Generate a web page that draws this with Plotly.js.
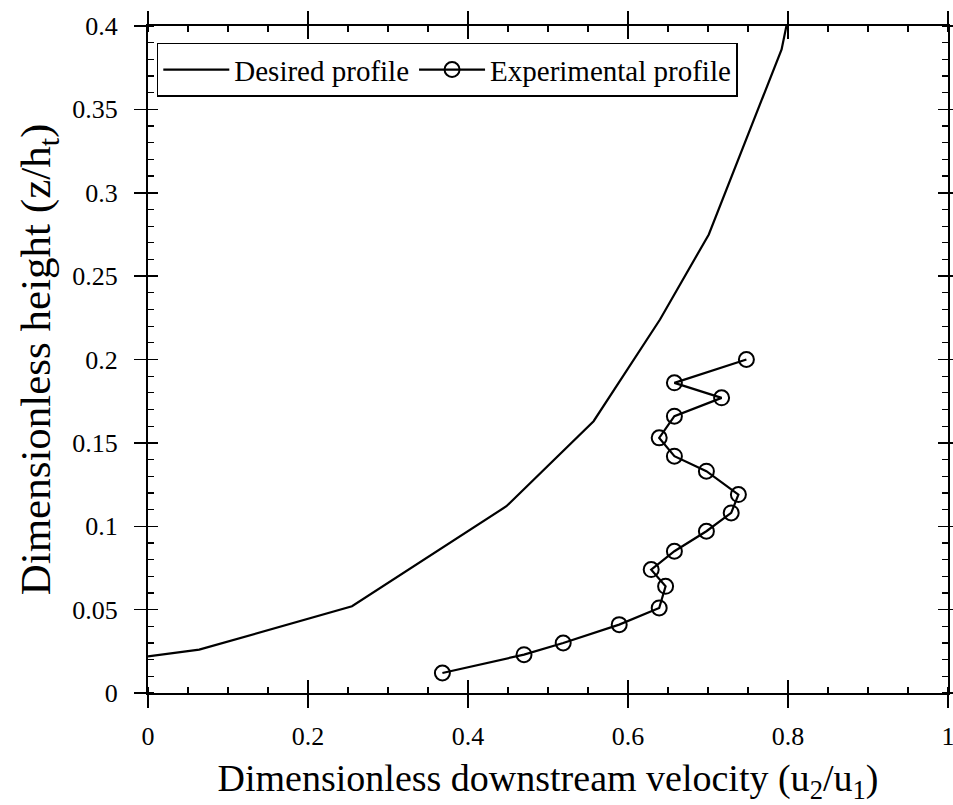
<!DOCTYPE html>
<html>
<head>
<meta charset="utf-8">
<script src="https://cdn.plot.ly/plotly-3.0.1.min.js"></script>
<style>html,body{margin:0;padding:0;background:#fff;}</style>
</head>
<body>
<div id="chart" style="width:953px;height:805px;"></div>
<script>
// Desired profile (solid line)
const desiredX = [0, 0.064, 0.255, 0.448, 0.557, 0.640, 0.701, 0.792, 0.798];
const desiredY = [0.022, 0.026, 0.052, 0.112, 0.163, 0.224, 0.275, 0.386, 0.400];

// Experimental profile (line + open circles)
const expX = [0.368, 0.470, 0.519, 0.589, 0.639, 0.647, 0.629, 0.658, 0.698, 0.729,
              0.738, 0.698, 0.658, 0.639, 0.658, 0.717, 0.658, 0.748];
const expY = [0.012, 0.023, 0.030, 0.041, 0.051, 0.064, 0.074, 0.085, 0.097, 0.108,
              0.119, 0.133, 0.142, 0.153, 0.166, 0.177, 0.186, 0.200];

const seriesNames = ["Desired profile", "Experimental profile"];
const xTickVals = [0, 0.2, 0.4, 0.6, 0.8, 1];
const xTickText = ["0", "0.2", "0.4", "0.6", "0.8", "1"];
const yTickVals = [0, 0.05, 0.1, 0.15, 0.2, 0.25, 0.3, 0.35, 0.4];
const yTickText = ["0", "0.05", "0.1", "0.15", "0.2", "0.25", "0.3", "0.35", "0.4"];
const xTitle = "Dimensionless downstream velocity (u<sub>2</sub>/u<sub>1</sub>)";
const yTitle = "Dimensionless height (z/h<sub>t</sub>)";

const FONT = "Liberation Serif, Times New Roman, serif";

const traces = [
  {x: desiredX, y: desiredY, mode: "lines", name: seriesNames[0],
   line: {color: "#000", width: 2.2}, hoverinfo: "skip"},
  {x: expX, y: expY, mode: "lines+markers", name: seriesNames[1],
   line: {color: "#000", width: 2.2},
   marker: {symbol: "circle-open", size: 15, color: "#000", line: {width: 2, color: "#000"}},
   hoverinfo: "skip"},
  // carrier trace so the overlay axes (inward major ticks) get drawn
  {x: desiredX, y: desiredY, xaxis: "x2", yaxis: "y2", mode: "none",
   showlegend: false, hoverinfo: "skip"}
];

const layout = {
  width: 953, height: 805,
  margin: {l: 148, r: 5, t: 26, b: 112},
  paper_bgcolor: "#fff", plot_bgcolor: "#fff",
  font: {family: FONT, color: "#000", size: 26},
  showlegend: true,
  legend: {
    orientation: "h", x: 0.011, y: 0.975, xanchor: "left", yanchor: "top",
    bgcolor: "#fff", bordercolor: "#000", borderwidth: 1.5,
    font: {family: FONT, size: 29, color: "#000"},
    itemwidth: 66, tracegroupgap: 0
  },
  xaxis: {
    range: [0, 1], tickmode: "array", tickvals: xTickVals, ticktext: xTickText,
    showgrid: false, zeroline: false,
    showline: true, linecolor: "#000", linewidth: 2, mirror: "allticks",
    ticks: "outside", ticklen: 13, tickwidth: 1.5, tickcolor: "#000",
    ticklabelstandoff: 6, ticklabeloverflow: "allow",
    tickfont: {family: FONT, size: 26, color: "#000"},
    minor: {dtick: 0.05, tick0: 0, ticks: "inside", ticklen: 6, tickwidth: 1.2, tickcolor: "#000", showgrid: false},
    title: {text: xTitle, font: {family: FONT, size: 38, color: "#000"}, standoff: 14}
  },
  yaxis: {
    range: [0, 0.4], tickmode: "array", tickvals: yTickVals, ticktext: yTickText,
    showgrid: false, zeroline: false,
    showline: true, linecolor: "#000", linewidth: 2, mirror: "allticks",
    ticks: "outside", ticklen: 12, tickwidth: 1.5, tickcolor: "#000",
    ticklabelstandoff: 11, ticklabeloverflow: "allow",
    tickfont: {family: FONT, size: 26, color: "#000"},
    minor: {dtick: 0.01, tick0: 0, ticks: "inside", ticklen: 6, tickwidth: 1.2, tickcolor: "#000", showgrid: false},
    title: {text: yTitle, font: {family: FONT, size: 43, color: "#000"}, standoff: 8}
  },
  xaxis2: {
    overlaying: "x", range: [0, 1], tickmode: "array", tickvals: xTickVals,
    showgrid: false, zeroline: false, showline: false, showticklabels: false,
    ticks: "inside", ticklen: 13, tickwidth: 1.5, tickcolor: "#000", mirror: "allticks"
  },
  yaxis2: {
    overlaying: "y", range: [0, 0.4], tickmode: "array", tickvals: yTickVals,
    showgrid: false, zeroline: false, showline: false, showticklabels: false,
    ticks: "inside", ticklen: 10, tickwidth: 1.5, tickcolor: "#000", mirror: "allticks"
  }
};

Plotly.newPlot("chart", traces, layout, {displayModeBar: false, staticPlot: true});
</script>
</body>
</html>
